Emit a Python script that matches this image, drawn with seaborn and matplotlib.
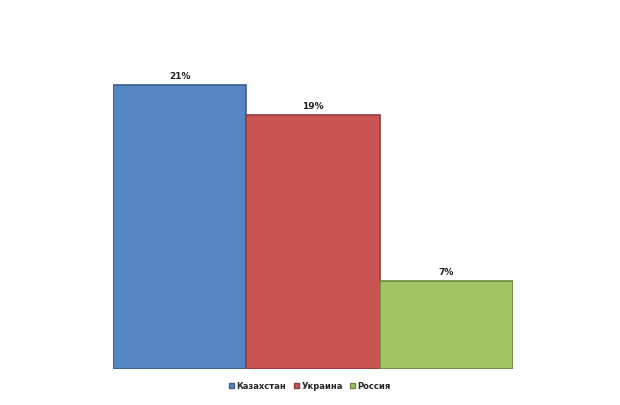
import matplotlib
matplotlib.use("Agg")
import matplotlib.pyplot as plt
import seaborn as sns
import pandas as pd
from matplotlib.patches import Patch

countries = ["Казахстан", "Украина", "Россия"]
values = [21.0, 18.8, 6.5]
labels = ["21%", "19%", "7%"]
colors = ["#5585C5", "#CB5552", "#A2C563"]
edges = ["#3A5F90", "#8E3A38", "#6E8A3E"]

sns.set_style("white")
plt.rcParams['font.family'] = ['DejaVu Sans']

fig = plt.figure(figsize=(6.2, 4.06), dpi=100)
ax = fig.add_axes([0.1823, 0.0887, 0.6452, 0.8323])

df = pd.DataFrame({"country": countries, "value": values})
sns.barplot(data=df, x="country", y="value", hue="country", palette=colors,
            width=1.0, dodge=False, ax=ax, legend=False, saturation=1)

for p, ec in zip(ax.patches, edges):
    p.set_edgecolor(ec)
    p.set_linewidth(1.2)

for p, lab in zip(ax.patches, labels):
    ax.text(p.get_x() + p.get_width() / 2, p.get_height() + 0.35, lab,
            ha="center", va="bottom", fontsize=6.5, fontweight="bold", color="#222222")

ax.set_xlim(-0.5, 2.5)
ax.set_ylim(0, 25)
ax.set_axis_off()

handles = [Patch(facecolor=c, edgecolor=e, label=n) for c, e, n in zip(colors, edges, countries)]
fig.legend(handles=handles, loc="center", bbox_to_anchor=(310 / 620, 1 - 387 / 406), ncol=3,
           frameon=False, prop={"size": 6, "weight": "bold"}, handlelength=0.6, handleheight=0.6,
           handletextpad=0.3, columnspacing=0.9)

fig.savefig("out.png", dpi=100)
